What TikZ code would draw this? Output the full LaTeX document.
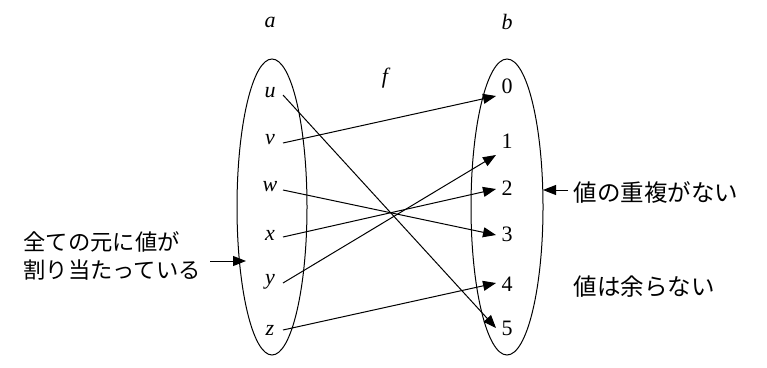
\documentclass[tikz,border=0pt]{standalone}
\usepackage{fontspec}
\setmainfont{Liberation Serif}
\newfontfamily\jfont{Noto Sans CJK JP}
\usetikzlibrary{arrows.meta}
\begin{document}
\begin{tikzpicture}[x=1pt,y=-1pt,line width=1pt,
  elem/.style={font=\fontsize{22}{26}\selectfont\itshape,inner sep=0pt},
  num/.style={font=\fontsize{22}{26}\selectfont,inner sep=0pt},
  jtext/.style={font=\jfont\fontsize{23.5}{28}\selectfont,inner sep=0pt,align=left},
  jtextl/.style={jtext,font=\jfont\fontsize{22.3}{28}\selectfont},
  map/.style={-{Triangle[length=13pt,width=10pt]}}]
\useasboundingbox (0,0) rectangle (767,367);
\draw (272,207) ellipse [x radius=35, y radius=148];
\draw (507,207) ellipse [x radius=36, y radius=148];
\node[elem] (a) at (270,22) {a};
\node[elem] (b) at (507,22) {b};
\node[elem] (f) at (385,78) {f};
\node[elem] (u) at (270,93) {u};
\node[elem] (v) at (270,140) {v};
\node[elem] (w) at (270,187) {w};
\node[elem] (x) at (270,235) {x};
\node[elem] (y) at (270,282) {y};
\node[elem] (z) at (270,330) {z};
\node[num] (n0) at (507,86) {0};
\node[num] (n1) at (507,141) {1};
\node[num] (n2) at (507,188) {2};
\node[num] (n3) at (507,234) {3};
\node[num] (n4) at (507,284) {4};
\node[num] (n5) at (507,328) {5};
\coordinate (su) at (283,95);
\coordinate (sv) at (283,143);
\coordinate (sw) at (283,190);
\coordinate (sx) at (283,237);
\coordinate (sy) at (283,283);
\coordinate (sz) at (283,330);
\coordinate (e0) at (496,96);
\coordinate (e1) at (496,155);
\coordinate (e2) at (496,189);
\coordinate (e3) at (496,235);
\coordinate (e4) at (496,283);
\coordinate (e5) at (496,328);
\draw[map] (su) -- (e5);
\draw[map] (sv) -- (e0);
\draw[map] (sw) -- (e3);
\draw[map] (sx) -- (e2);
\draw[map] (sy) -- (e1);
\draw[map] (sz) -- (e4);
\node[jtextl,anchor=west] (lt) at (23,256) {全ての元に値が\\割り当たっている};
\coordinate (la) at (210,261);
\coordinate (lb) at (246,261);
\draw[map] (la) -- (lb);
\node[jtext,anchor=west] (rt1) at (573,193) {値の重複がない};
\coordinate (ra) at (568,190);
\coordinate (rb) at (543,190);
\draw[map] (ra) -- (rb);
\node[jtext,anchor=west] (rt2) at (573,287) {値は余らない};
\end{tikzpicture}
\end{document}
